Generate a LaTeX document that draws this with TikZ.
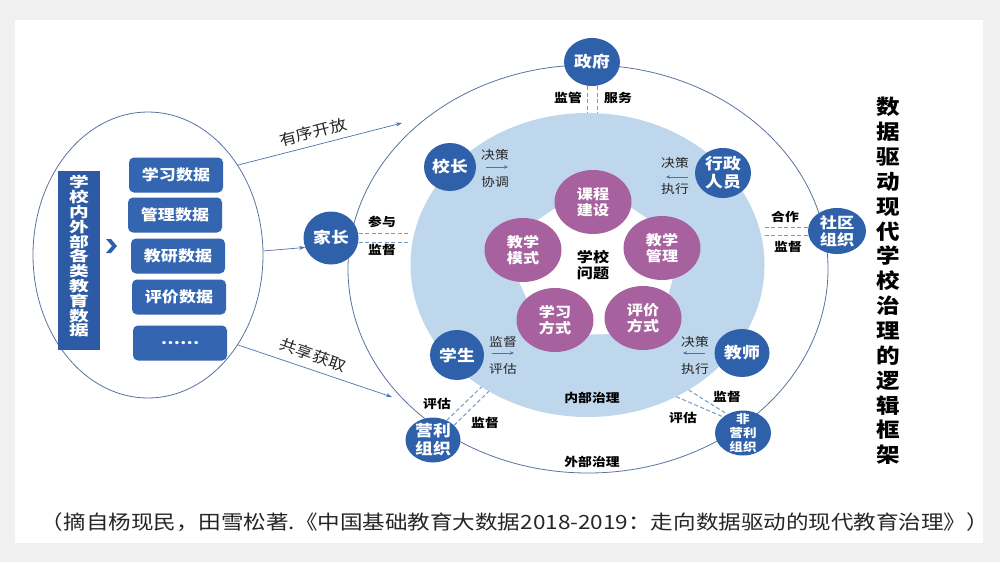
\documentclass[tikz,border=0pt]{standalone}
\usepackage{fontspec}
\setmainfont{Noto Sans CJK SC}[FakeStretch=1.15]
\newfontfamily\widefont{Noto Sans CJK SC}[FakeStretch=1.38]
\usetikzlibrary{shapes.geometric,arrows.meta,calc}
\definecolor{nodeblue}{RGB}{46,97,170}
\definecolor{boxblue}{RGB}{52,101,176}
\definecolor{vbox}{RGB}{44,90,165}
\definecolor{innerblue}{RGB}{190,215,237}
\definecolor{purp}{RGB}{166,97,158}
\definecolor{ringline}{RGB}{90,115,160}
\definecolor{dashc}{RGB}{115,155,200}
\definecolor{arrc}{RGB}{75,115,175}
\definecolor{bggray}{RGB}{240,240,240}
\begin{document}
\begin{tikzpicture}[x=1pt,y=-1pt,
  actor/.style={ellipse, fill=nodeblue, inner sep=0pt},
  atext/.style={text=white, font=\bfseries\fontsize{15.5}{18}\selectfont, align=center, inner sep=0pt},
  topic/.style={ellipse, fill=purp, inner sep=0pt, minimum width=77pt, minimum height=64pt},
  ttext/.style={text=white, font=\bfseries\fontsize{14}{16}\selectfont, align=center, inner sep=0pt},
  databox/.style={rounded corners=5pt, fill=boxblue, text=white, font=\bfseries\fontsize{14.8}{17}\selectfont, minimum width=94pt, minimum height=35pt, inner sep=0pt},
  blbl/.style={font=\bfseries\fontsize{12}{14}\selectfont, text=black, inner sep=0pt},
  rlbl/.style={font=\fontsize{12}{14}\selectfont, text=black!85, inner sep=0pt},
  dashline/.style={draw=dashc, line width=1pt, dash pattern=on 4pt off 2.5pt},
  flow/.style={draw=arrc, line width=0.7pt, -{Stealth[length=6pt,width=4pt]}},
  tinyarr/.style={draw=arrc, line width=0.9pt, -{Stealth[length=4pt,width=3.5pt]}},
]
% background
\fill[bggray] (0,0) rectangle (1000,562);
\fill[white] (15,20) rectangle (983,543);
\useasboundingbox (0,0) rectangle (1000,562);

% left ellipse with data
\node[ellipse, draw=ringline, line width=0.8pt, inner sep=0pt, minimum width=230pt, minimum height=286pt] (src) at (148,255) {};
\node[fill=vbox, minimum width=42pt, minimum height=179pt, inner sep=0pt] (vb) at (79,260.5) {};
\node[text=white, font=\widefont\bfseries\fontsize{14.3}{14.8}\selectfont, align=center, inner sep=0pt] (vbt) at (79,256.5) {学\\校\\内\\外\\部\\各\\类\\教\\育\\数\\据};
\fill[nodeblue] (106,239) -- (111,239) -- (117,246) -- (111,253) -- (106,253) -- (112,246) -- cycle;
\node[databox] (d1) at (176,175) {学习数据};
\node[databox] (d2) at (175,215) {管理数据};
\node[databox] (d3) at (178,256) {教研数据};
\node[databox] (d4) at (179,297) {评价数据};
\node[databox] (d5) at (180,343) {……};

% outer and inner rings
\node[ellipse, draw=ringline, line width=0.8pt, inner sep=0pt, minimum width=480pt, minimum height=408pt] (outer) at (588,269) {};
\node[ellipse, fill=innerblue, inner sep=0pt, minimum width=354pt, minimum height=304pt] (inner) at (587.5,265) {};

% central pentagon
\coordinate (pc) at (593,268);
\coordinate (ckc) at (593,202);
\coordinate (cgl) at (662,248);
\coordinate (cpj) at (643,318);
\coordinate (cxx) at (555,320);
\coordinate (cms) at (523,250);
\fill[white, rounded corners=14pt] ($(pc)!1.3!(ckc)$) -- ($(pc)!1.3!(cgl)$) -- ($(pc)!1.3!(cpj)$) -- ($(pc)!1.3!(cxx)$) -- ($(pc)!1.3!(cms)$) -- cycle;
\node[topic, label={[ttext]center:{课程\\建设}}] (kc) at (ckc) {};
\node[topic, label={[ttext]center:{教学\\管理}}] (gl) at (cgl) {};
\node[topic, label={[ttext]center:{评价\\方式}}] (pj) at (cpj) {};
\node[topic, label={[ttext]center:{学习\\方式}}] (xx) at (cxx) {};
\node[topic, label={[ttext]center:{教学\\模式}}] (ms) at (cms) {};
\node[font=\bfseries\fontsize{14}{16}\selectfont, align=center, inner sep=0pt] (wt) at (593,265) {学校\\问题};

% actor nodes
\node[actor, minimum width=56pt, minimum height=48pt, label={[atext]center:政府}] (gov) at (592,62) {};
\node[actor, minimum width=52pt, minimum height=48pt, label={[atext]center:校长}] (xz) at (450,167) {};
\node[actor, minimum width=56pt, minimum height=50pt, label={[atext]center:{行政\\人员}}] (xzry) at (723,173) {};
\node[actor, minimum width=58pt, minimum height=46pt, label={[atext, font=\bfseries\fontsize{15}{17}\selectfont]center:{社区\\组织}}] (sq) at (837,231) {};
\node[actor, minimum width=55pt, minimum height=53pt, label={[atext]center:家长}] (jz) at (331,238) {};
\node[actor, minimum width=54pt, minimum height=50pt, label={[atext]center:学生}] (xs) at (457,355) {};
\node[actor, minimum width=55pt, minimum height=48pt, label={[atext]center:教师}] (js) at (742,353) {};
\node[actor, minimum width=55pt, minimum height=45pt, label={[atext]center:{营利\\组织}}] (yl) at (433,440) {};
\node[actor, minimum width=56pt, minimum height=45pt, label={[atext, font=\bfseries\fontsize{11.8}{14}\selectfont]center:{非\\营利\\组织}}] (fyl) at (743,433) {};

% dashed relations
\draw[dashline] ([xshift=-5pt]gov.south) -- ([xshift=-5pt]gov.south |- inner.north);
\draw[dashline] ([xshift=5pt]gov.south) -- ([xshift=5pt]gov.south |- inner.north);
\draw[dashline] ([yshift=4.5pt]jz.east) -- ([yshift=4.5pt]jz.east -| inner.west);
\draw[dashline] ([yshift=-4.5pt]jz.east) -- ([yshift=-4.5pt]jz.east -| inner.west);
\draw[dashline] ([yshift=4pt]inner.east |- sq.west) -- ([yshift=4pt]sq.west);
\draw[dashline] ([yshift=-4pt]inner.east |- sq.west) -- ([yshift=-4pt]sq.west);
\draw[dashline] (yl.55) -- (inner.229.6);
\draw[dashline] (yl.35) -- (inner.232.7);
\draw[dashline] (inner.304.8) -- (fyl.141);
\draw[dashline] (inner.309.9) -- (fyl.130);

% bold labels
\node[blbl] (l1) at (568,98) {监管};
\node[blbl] (l2) at (618,98) {服务};
\node[blbl] (l3) at (382,222) {参与};
\node[blbl] (l4) at (382,250) {监督};
\node[blbl] (l5) at (785,217) {合作};
\node[blbl] (l6) at (788,247) {监督};
\node[blbl] (l7) at (437,404) {评估};
\node[blbl] (l8) at (485,423) {监督};
\node[blbl] (l9) at (727,397) {监督};
\node[blbl] (l10) at (683,418) {评估};
\node[blbl] (nb) at (592,398) {内部治理};
\node[blbl] (wb) at (592,462) {外部治理};

% regular labels with small arrows
\node[rlbl] (r1) at (495,155) {决策};
\node[rlbl] (r2) at (495,182) {协调};
\coordinate (a1s) at (486,167); \coordinate (a1e) at (508,167);
\draw[tinyarr] (a1s) -- (a1e);
\node[rlbl] (r3) at (675,163) {决策};
\node[rlbl] (r4) at (675,189) {执行};
\coordinate (a2s) at (688,177); \coordinate (a2e) at (666,177);
\draw[tinyarr] (a2s) -- (a2e);
\node[rlbl] (r5) at (503,342) {监督};
\node[rlbl] (r6) at (503,369) {评估};
\coordinate (a3s) at (492,353); \coordinate (a3e) at (514,353);
\draw[tinyarr] (a3s) -- (a3e);
\node[rlbl] (r7) at (695,342) {决策};
\node[rlbl] (r8) at (695,369) {执行};
\coordinate (a4s) at (705,353); \coordinate (a4e) at (683,353);
\draw[tinyarr] (a4s) -- (a4e);

% flows from data
\coordinate (t1) at (402,123);
\coordinate (t2) at (392,397);
\draw[flow] (src.45) -- (t1);
\draw[flow] (src.-45) -- (t2);
\draw[flow] (src.2) -- (jz.200);
\node[font=\fontsize{15}{17}\selectfont, text=black!85, rotate=14.5, inner sep=0pt] (f1) at (313,132) {有序开放};
\node[font=\fontsize{15}{17}\selectfont, text=black!85, rotate=-19.5, inner sep=0pt] (f2) at (313,355) {共享获取};

% title
\node[font=\bfseries\fontsize{20.5}{24.86}\selectfont, align=center, inner sep=0pt] (title) at (888,281) {数\\据\\驱\\动\\现\\代\\学\\校\\治\\理\\的\\逻\\辑\\框\\架};

% citation
\node[font=\fontsize{19.6}{21}\selectfont, text=black!85, inner sep=0pt] (cite) at (515,522) {（摘自杨现民，田雪松著.《中国基础教育大数据2018-2019：走向数据驱动的现代教育治理》）};
\end{tikzpicture}
\end{document}
